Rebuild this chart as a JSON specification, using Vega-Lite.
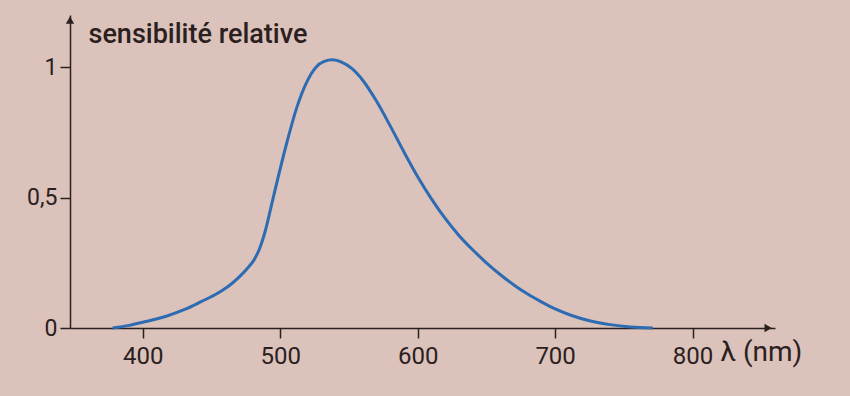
{
  "$schema": "https://vega.github.io/schema/vega-lite/v6.json",
  "width": 705,
  "height": 313,
  "autosize": {"type": "none"},
  "padding": {"left": 70, "top": 15, "right": 75, "bottom": 68},
  "background": "#dbc2ba",
  "config": {"view": {"stroke": null}, "font": "Roboto"},
  "datasets": {
    "curve": [
      {"lambda": 378, "s": 0},
      {"lambda": 390, "s": 0.01},
      {"lambda": 400, "s": 0.022},
      {"lambda": 417, "s": 0.045},
      {"lambda": 430, "s": 0.07},
      {"lambda": 442, "s": 0.1},
      {"lambda": 455, "s": 0.135},
      {"lambda": 463, "s": 0.163},
      {"lambda": 470, "s": 0.195},
      {"lambda": 476, "s": 0.228},
      {"lambda": 481, "s": 0.262},
      {"lambda": 485, "s": 0.305},
      {"lambda": 489, "s": 0.37},
      {"lambda": 494, "s": 0.48},
      {"lambda": 499, "s": 0.59},
      {"lambda": 505, "s": 0.715},
      {"lambda": 512, "s": 0.845},
      {"lambda": 519, "s": 0.94},
      {"lambda": 526, "s": 1.0},
      {"lambda": 532, "s": 1.022},
      {"lambda": 538, "s": 1.028},
      {"lambda": 545, "s": 1.018},
      {"lambda": 552, "s": 0.995},
      {"lambda": 560, "s": 0.95},
      {"lambda": 570, "s": 0.87},
      {"lambda": 580, "s": 0.775},
      {"lambda": 590, "s": 0.675},
      {"lambda": 600, "s": 0.58},
      {"lambda": 610, "s": 0.495},
      {"lambda": 620, "s": 0.42},
      {"lambda": 630, "s": 0.355},
      {"lambda": 640, "s": 0.3},
      {"lambda": 650, "s": 0.25},
      {"lambda": 660, "s": 0.205},
      {"lambda": 670, "s": 0.165},
      {"lambda": 680, "s": 0.13},
      {"lambda": 690, "s": 0.1},
      {"lambda": 700, "s": 0.073},
      {"lambda": 712, "s": 0.048},
      {"lambda": 725, "s": 0.028},
      {"lambda": 740, "s": 0.013},
      {"lambda": 755, "s": 0.004},
      {"lambda": 771, "s": 0}
    ],
    "arrows": [
      {"lambda": 855, "s": 0, "dir": "right"},
      {"lambda": 347, "s": 1.18, "dir": "up"}
    ]
  },
  "layer": [
    {
      "data": {"name": "curve"},
      "mark": {"type": "line", "interpolate": "monotone", "color": "#2d6cb3", "strokeWidth": 3, "clip": false},
      "encoding": {
        "x": {
          "field": "lambda", "type": "quantitative",
          "scale": {"domain": [347, 860], "nice": false, "zero": false},
          "axis": {
            "values": [400, 500, 600, 700, 800],
            "grid": false,
            "domainColor": "#2b2020", "domainWidth": 1.5,
            "tickColor": "#2b2020", "tickWidth": 1.5, "tickSize": 10,
            "labelFontSize": 24, "labelColor": "#2b2020", "labelPadding": 6, "labelFlush": false,
            "title": "λ (nm)", "titleFontSize": 28, "titleFontWeight": "normal", "titleColor": "#2b2020",
            "titleX": 650, "titleY": 32, "titleAlign": "left", "titleBaseline": "alphabetic", "titleAnchor": "start"
          }
        },
        "y": {
          "field": "s", "type": "quantitative",
          "scale": {"domain": [0, 1.2], "nice": false},
          "axis": {
            "values": [0, 0.5, 1],
            "labelExpr": "datum.value == 0.5 ? '0,5' : format(datum.value, 'd')",
            "grid": false,
            "domainColor": "#2b2020", "domainWidth": 1.5,
            "tickColor": "#2b2020", "tickWidth": 1.5, "tickSize": 10,
            "labelFontSize": 23, "labelColor": "#2b2020", "labelPadding": 3,
            "title": "sensibilité relative", "titleFontSize": 27, "titleFontWeight": 500, "titleColor": "#2b2020",
            "titleAngle": 0, "titleX": 18, "titleY": 27, "titleAlign": "left", "titleBaseline": "alphabetic", "titleAnchor": "start"
          }
        }
      }
    },
    {
      "data": {"name": "arrows"},
      "mark": {"type": "point", "filled": true, "color": "#2b2020", "size": 70, "opacity": 1, "clip": false},
      "encoding": {
        "x": {"field": "lambda", "type": "quantitative"},
        "y": {"field": "s", "type": "quantitative"},
        "shape": {"field": "dir", "type": "nominal", "scale": {"domain": ["right", "up"], "range": ["triangle-right", "triangle-up"]}, "legend": null}
      }
    }
  ]
}
